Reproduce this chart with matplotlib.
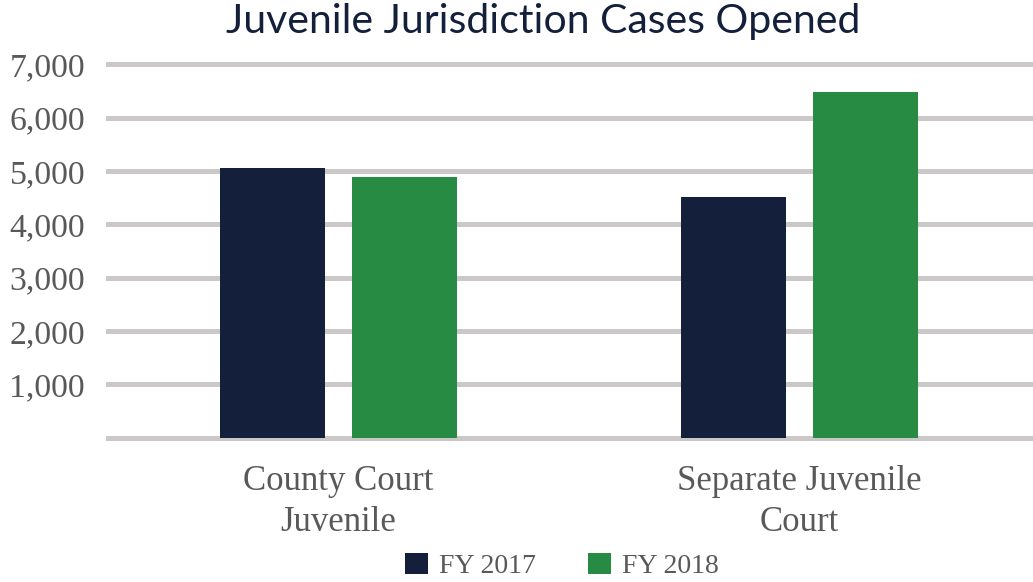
import numpy as np
import matplotlib.pyplot as plt

categories = ['County Court\nJuvenile', 'Separate Juvenile\nCourt']
fy2017 = [5050, 4510]
fy2018 = [4890, 6485]
series_names = ['FY 2017', 'FY 2018']
yticks = [0, 1000, 2000, 3000, 4000, 5000, 6000, 7000]

navy = '#141f3b'
green = '#288b44'
grey_txt = '#595959'
grid_col = '#ccc8c8'

plt.rcParams['font.family'] = ['Liberation Serif', 'DejaVu Serif']

fig = plt.figure(figsize=(10.33, 5.82), dpi=100)
ax = fig.add_axes([108/1033, 1-437.7/582, 922/1033, (437.7-64.5)/582])

x = np.arange(len(categories))
w = 0.228
off = (w + 0.059) / 2
ax.bar(x - off, fy2017, w, color=navy, label=series_names[0], zorder=3)
ax.bar(x + off, fy2018, w, color=green, label=series_names[1], zorder=3)

ax.set_xlim(-0.5, 1.5)
ax.set_ylim(0, 7000)
ax.set_yticks(yticks)
ax.set_yticklabels(['' if v == 0 else f'{v:,}' for v in yticks])
for v in yticks:
    ax.axhline(v, color=grid_col, lw=3.6, zorder=1, clip_on=False)
ax.set_xticks(x)
ax.set_xticklabels(categories, fontsize=25, color=grey_txt, linespacing=1.3)
ax.tick_params(axis='y', labelsize=24.3, labelcolor=grey_txt, length=0, pad=16.5)
ax.tick_params(axis='x', length=0, pad=20)
for s in ax.spines.values():
    s.set_visible(False)

fig.text(543/1033, 1-22/582, 'Juvenile Jurisdiction Cases Opened', ha='center', va='center',
         fontsize=29.5, color=navy, family=['Lato', 'DejaVu Sans'])

fig.legend(loc='center', bbox_to_anchor=(562/1033, 1-566/582), ncol=2, frameon=False,
           fontsize=20, labelcolor=grey_txt, handlelength=0.8, handleheight=0.8,
           handletextpad=0.4, columnspacing=1.9)

fig.savefig('out.png', dpi=100)
